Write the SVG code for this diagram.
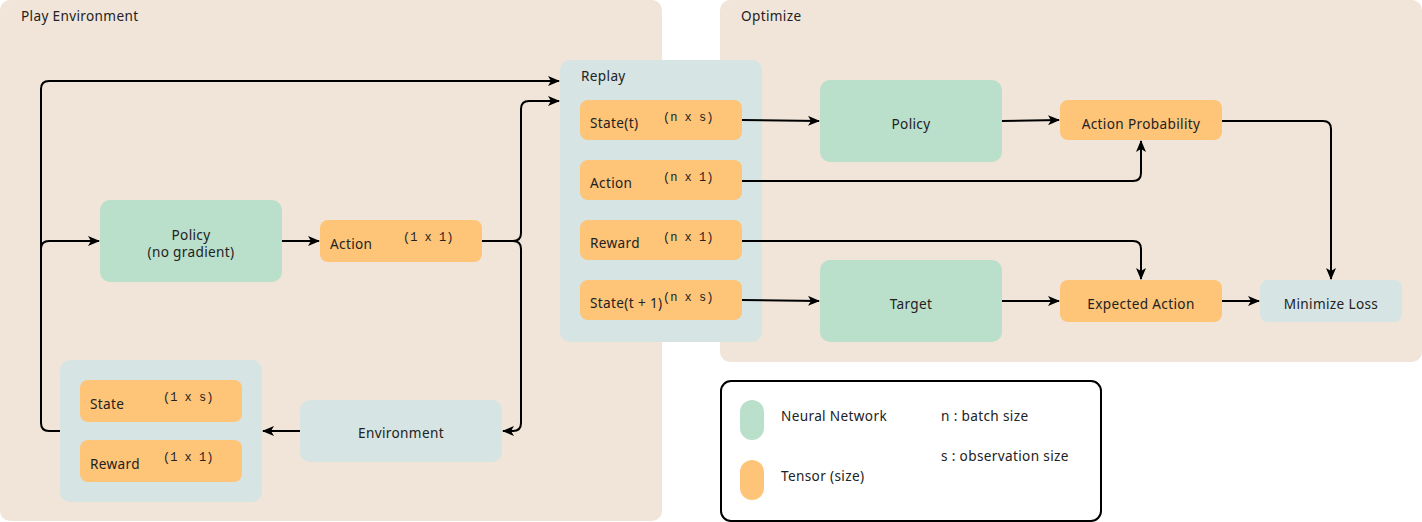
<svg xmlns="http://www.w3.org/2000/svg" width="1422" height="522" viewBox="0 0 1422 522">
<style>
.panel{fill:#f1e5da}
.blue{fill:#d6e4e3}
.green{fill:#badfca}
.orange{fill:#fec478}
text{font-family:"Noto Sans","DejaVu Sans",sans-serif;font-size:13.6px;letter-spacing:0.35px;fill:#222}
.mono{font-family:"Liberation Mono","Courier New",monospace;font-size:12px;letter-spacing:0;fill:#222}
.mid{text-anchor:middle}
.edge{fill:none;stroke:#000;stroke-width:2}
</style>
<defs>
<marker id="arr" viewBox="0 0 12 10" refX="11" refY="5" markerWidth="12" markerHeight="10" markerUnits="userSpaceOnUse" orient="auto">
<path d="M0,0 L12,5 L0,10 L3,5 Z" fill="#000"/>
</marker>
</defs>
<rect width="1422" height="522" fill="#fff"/>
<g id="play-env">
<rect class="panel" x="0" y="0" width="662" height="521" rx="10"/>
<text x="21" y="21">Play Environment</text>
</g>
<g id="optimize">
<rect class="panel" x="720" y="0" width="702" height="362" rx="10"/>
<text x="741" y="21">Optimize</text>
</g>
<g id="replay">
<rect class="blue" x="560" y="60" width="202" height="282" rx="10"/>
<text x="581" y="81">Replay</text>
</g>
<g id="replay-state">
<rect class="orange" x="580" y="100" width="162" height="40" rx="8"/>
<text x="590" y="128">State(t)</text>
<text class="mono" x="663" y="121">(n x s)</text>
</g>
<g id="replay-action">
<rect class="orange" x="580" y="160" width="162" height="40" rx="8"/>
<text x="590" y="188">Action</text>
<text class="mono" x="663" y="181">(n x 1)</text>
</g>
<g id="replay-reward">
<rect class="orange" x="580" y="220" width="162" height="40" rx="8"/>
<text x="590" y="248">Reward</text>
<text class="mono" x="663" y="241">(n x 1)</text>
</g>
<g id="replay-state-next">
<rect class="orange" x="580" y="280" width="162" height="40" rx="8"/>
<text x="590" y="308">State(t + 1)</text>
<text class="mono" x="663" y="301">(n x s)</text>
</g>
<g id="policy-nograd">
<rect class="green" x="100" y="200" width="182" height="82" rx="10"/>
<text class="mid" x="191" y="240">Policy</text>
<text class="mid" x="191" y="257">(no gradient)</text>
</g>
<g id="action">
<rect class="orange" x="320" y="220" width="162" height="42" rx="8"/>
<text x="330" y="249">Action</text>
<text class="mono" x="403" y="241">(1 x 1)</text>
</g>
<g id="environment">
<rect class="blue" x="300" y="400" width="202" height="62" rx="10"/>
<text class="mid" x="401" y="438">Environment</text>
</g>
<g id="observation">
<rect class="blue" x="60" y="360" width="202" height="142" rx="10"/>
</g>
<g id="obs-state">
<rect class="orange" x="80" y="380" width="162" height="42" rx="8"/>
<text x="90" y="409">State</text>
<text class="mono" x="163" y="401">(1 x s)</text>
</g>
<g id="obs-reward">
<rect class="orange" x="80" y="440" width="162" height="42" rx="8"/>
<text x="90" y="469">Reward</text>
<text class="mono" x="163" y="461">(1 x 1)</text>
</g>
<g id="policy">
<rect class="green" x="820" y="80" width="182" height="82" rx="10"/>
<text class="mid" x="911" y="129">Policy</text>
</g>
<g id="action-prob">
<rect class="orange" x="1060" y="100" width="162" height="40" rx="8"/>
<text class="mid" x="1141" y="129">Action Probability</text>
</g>
<g id="target">
<rect class="green" x="820" y="260" width="182" height="82" rx="10"/>
<text class="mid" x="911" y="309">Target</text>
</g>
<g id="expected-action">
<rect class="orange" x="1060" y="280" width="162" height="42" rx="8"/>
<text class="mid" x="1141" y="309">Expected Action</text>
</g>
<g id="minimize-loss">
<rect class="blue" x="1260" y="280" width="142" height="42" rx="8"/>
<text class="mid" x="1331" y="309">Minimize Loss</text>
</g>
<g id="legend">
<rect x="721" y="381" width="380" height="140" rx="10" fill="#fff" stroke="#000" stroke-width="2"/>
<rect class="green" x="740" y="400" width="24" height="40" rx="12"/>
<rect class="orange" x="740" y="460" width="24" height="40" rx="12"/>
<text x="781" y="421">Neural Network</text>
<text x="781" y="481">Tensor (size)</text>
<text x="941" y="421">n : batch size</text>
<text x="941" y="461">s : observation size</text>
</g>
<g id="connectors">
<path class="edge" marker-end="url(#arr)" d="M60,431 H49 Q41,431 41,423 V89 Q41,81 49,81 H559"/>
<path class="edge" marker-end="url(#arr)" d="M41,300 V249 Q41,241 49,241 H99"/>
<path class="edge" marker-end="url(#arr)" d="M282,241 H319"/>
<path class="edge" marker-end="url(#arr)" d="M482,241 H513 Q521,241 521,233 V109 Q521,101 529,101 H559"/>
<path class="edge" marker-end="url(#arr)" d="M482,241 H513 Q521,241 521,249 V423 Q521,431 513,431 H503"/>
<path class="edge" marker-end="url(#arr)" d="M300,431 H263"/>
<path class="edge" marker-end="url(#arr)" d="M742,120 L819,121"/>
<path class="edge" marker-end="url(#arr)" d="M742,181 H1133 Q1141,181 1141,173 V141"/>
<path class="edge" marker-end="url(#arr)" d="M742,241 H1133 Q1141,241 1141,249 V279"/>
<path class="edge" marker-end="url(#arr)" d="M742,300 L819,301"/>
<path class="edge" marker-end="url(#arr)" d="M1002,121 L1059,120"/>
<path class="edge" marker-end="url(#arr)" d="M1002,301 H1059"/>
<path class="edge" marker-end="url(#arr)" d="M1222,301 H1259"/>
<path class="edge" marker-end="url(#arr)" d="M1222,121 H1323 Q1331,121 1331,129 V279"/>
</g>
</svg>
